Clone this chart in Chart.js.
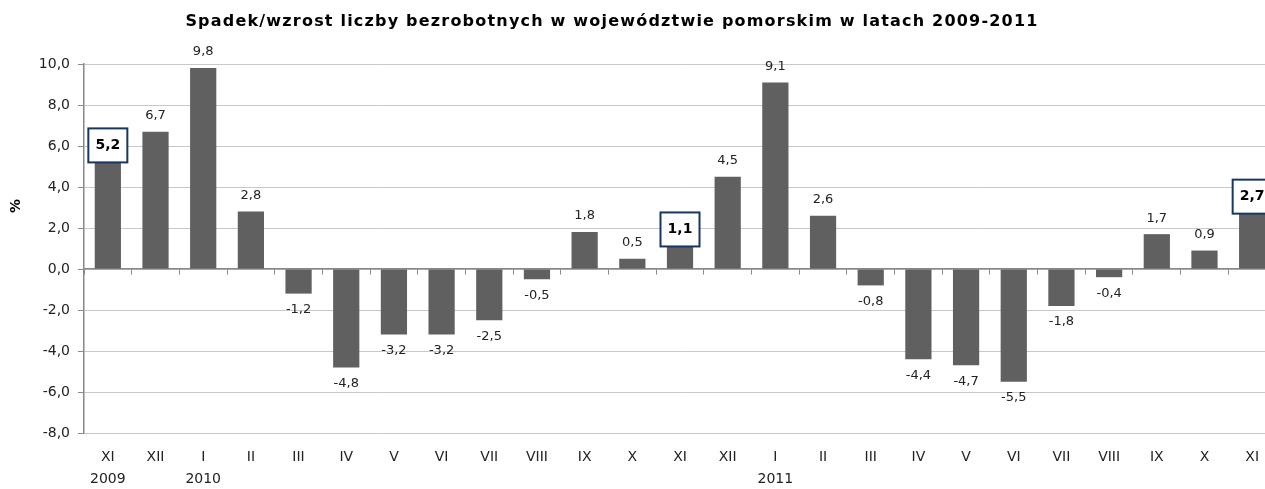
<!DOCTYPE html>
<html>
<head>
<meta charset="utf-8">
<script src="https://cdn.jsdelivr.net/npm/chart.js@4/dist/chart.umd.min.js"></script>
<style>
  html, body { margin: 0; padding: 0; background: #fff; overflow: hidden; }
  #wrap { width: 1280px; height: 489px; }
</style>
</head>
<body>
<div id="wrap"><canvas id="bezrobocie"></canvas></div>
<script>
/* --- dane --- */
const months = ['XI', 'XII', 'I', 'II', 'III', 'IV', 'V', 'VI', 'VII', 'VIII', 'IX', 'X',
  'XI', 'XII', 'I', 'II', 'III', 'IV', 'V', 'VI', 'VII', 'VIII', 'IX', 'X', 'XI']
const years = ['2009', '', '2010', '', '', '', '', '', '', '', '', '',
  '', '', '2011', '', '', '', '', '', '', '', '', '', '']
const values = [5.2, 6.7, 9.8, 2.8, -1.2, -4.8, -3.2, -3.2, -2.5, -0.5, 1.8, 0.5,
  1.1, 4.5, 9.1, 2.6, -0.8, -4.4, -4.7, -5.5, -1.8, -0.4, 1.7, 0.9, 2.7]
const highlighted = [0, 12, 24]
const titleText = 'Spadek/wzrost liczby bezrobotnych w województwie pomorskim w latach 2009-2011'
const yTitle = '%'

const labels = months.map((m, i) => years[i] ? [m, years[i]] : m)
const fmt = v => v.toFixed(1).replace('.', ',')
const FONT = '"DejaVu Sans", Verdana, sans-serif'

/* --- pluginy --- */
// tytul i opis osi rysowane recznie, zeby siedzialy tam gdzie w oryginale
const titlePlugin = {
  id: 'customTitle',
  afterDraw(chart) {
    const ctx = chart.ctx
    ctx.save()
    ctx.font = 'bold 16px ' + FONT
    ctx.letterSpacing = '1.2px'
    ctx.fillStyle = '#000'
    ctx.textAlign = 'center'
    ctx.textBaseline = 'middle'
    ctx.fillText(titleText, 612, 22)
    ctx.letterSpacing = '0px'
    ctx.translate(16, 206)
    ctx.rotate(-Math.PI / 2)
    ctx.font = 'bold 14px ' + FONT
    ctx.fillText(yTitle, 0, 0)
    ctx.restore()
  }
}

const valueLabels = {
  id: 'valueLabels',
  afterDatasetsDraw(chart) {
    const ctx = chart.ctx
    const meta = chart.getDatasetMeta(0)
    ctx.save()
    ctx.textAlign = 'center'
    ctx.textBaseline = 'middle'
    meta.data.forEach((bar, i) => {
      const v = values[i]
      const txt = fmt(v)
      if (highlighted.includes(i)) {
        const w = 39, h = 34
        const x0 = bar.x - w / 2, y0 = bar.y - h
        ctx.fillStyle = '#fff'
        ctx.fillRect(x0, y0, w, h)
        ctx.strokeStyle = '#17375e'
        ctx.lineWidth = 2
        ctx.strokeRect(x0, y0, w, h)
        ctx.font = 'bold 14px ' + FONT
        ctx.fillStyle = '#000'
        ctx.fillText(txt, bar.x, y0 + h / 2)
      } else {
        ctx.font = '13px ' + FONT
        ctx.fillStyle = '#222'
        const y = v >= 0 ? bar.y - 16 : bar.y + 16
        ctx.fillText(txt, bar.x, y)
      }
    })
    ctx.restore()
  }
}

/* --- wykres --- */
const data = {
  labels: labels,
  datasets: [{
    data: values,
    backgroundColor: '#606060',
    borderWidth: 0,
    barPercentage: 0.55,
    categoryPercentage: 1.0,
    xAxisID: 'x',
    yAxisID: 'y'
  }]
}

const config = {
  type: 'bar',
  data: data,
  options: {
    responsive: true,
    maintainAspectRatio: false,
    animation: false,
    layout: { padding: { top: 64, right: 4, left: 0, bottom: 0 } },
    plugins: {
      legend: { display: false },
      title: { display: false },
      tooltip: { enabled: false }
    },
    scales: {
      y: {
        min: -8,
        max: 10,
        ticks: {
          stepSize: 2,
          color: '#222',
          font: { family: FONT, size: 14 },
          padding: 8,
          callback: v => fmt(v)
        },
        grid: { color: '#c8c8c8', tickColor: '#888', tickLength: 6 },
        border: { display: true, color: '#888', width: 1.5 },
        afterFit(scale) { scale.width = 84 }
      },
      x: {
        position: 'bottom',
        offset: true,
        grid: { display: false },
        border: { display: false },
        ticks: {
          color: '#222',
          font: { family: FONT, size: 14, lineHeight: 1.6 },
          padding: 5,
          maxRotation: 0,
          autoSkip: false
        },
        afterFit(scale) { scale.height = 56 }
      },
      x0: {
        type: 'category',
        position: { y: 0 },
        offset: true,
        ticks: { display: false },
        grid: { drawOnChartArea: false, tickLength: 5, color: '#888' },
        border: { display: true, color: '#888', width: 1.5 }
      }
    }
  },
  plugins: [titlePlugin, valueLabels]
}

const bezrobocieChart = new Chart(
  document.getElementById('bezrobocie').getContext('2d'),
  config
)
</script>
</body>
</html>
